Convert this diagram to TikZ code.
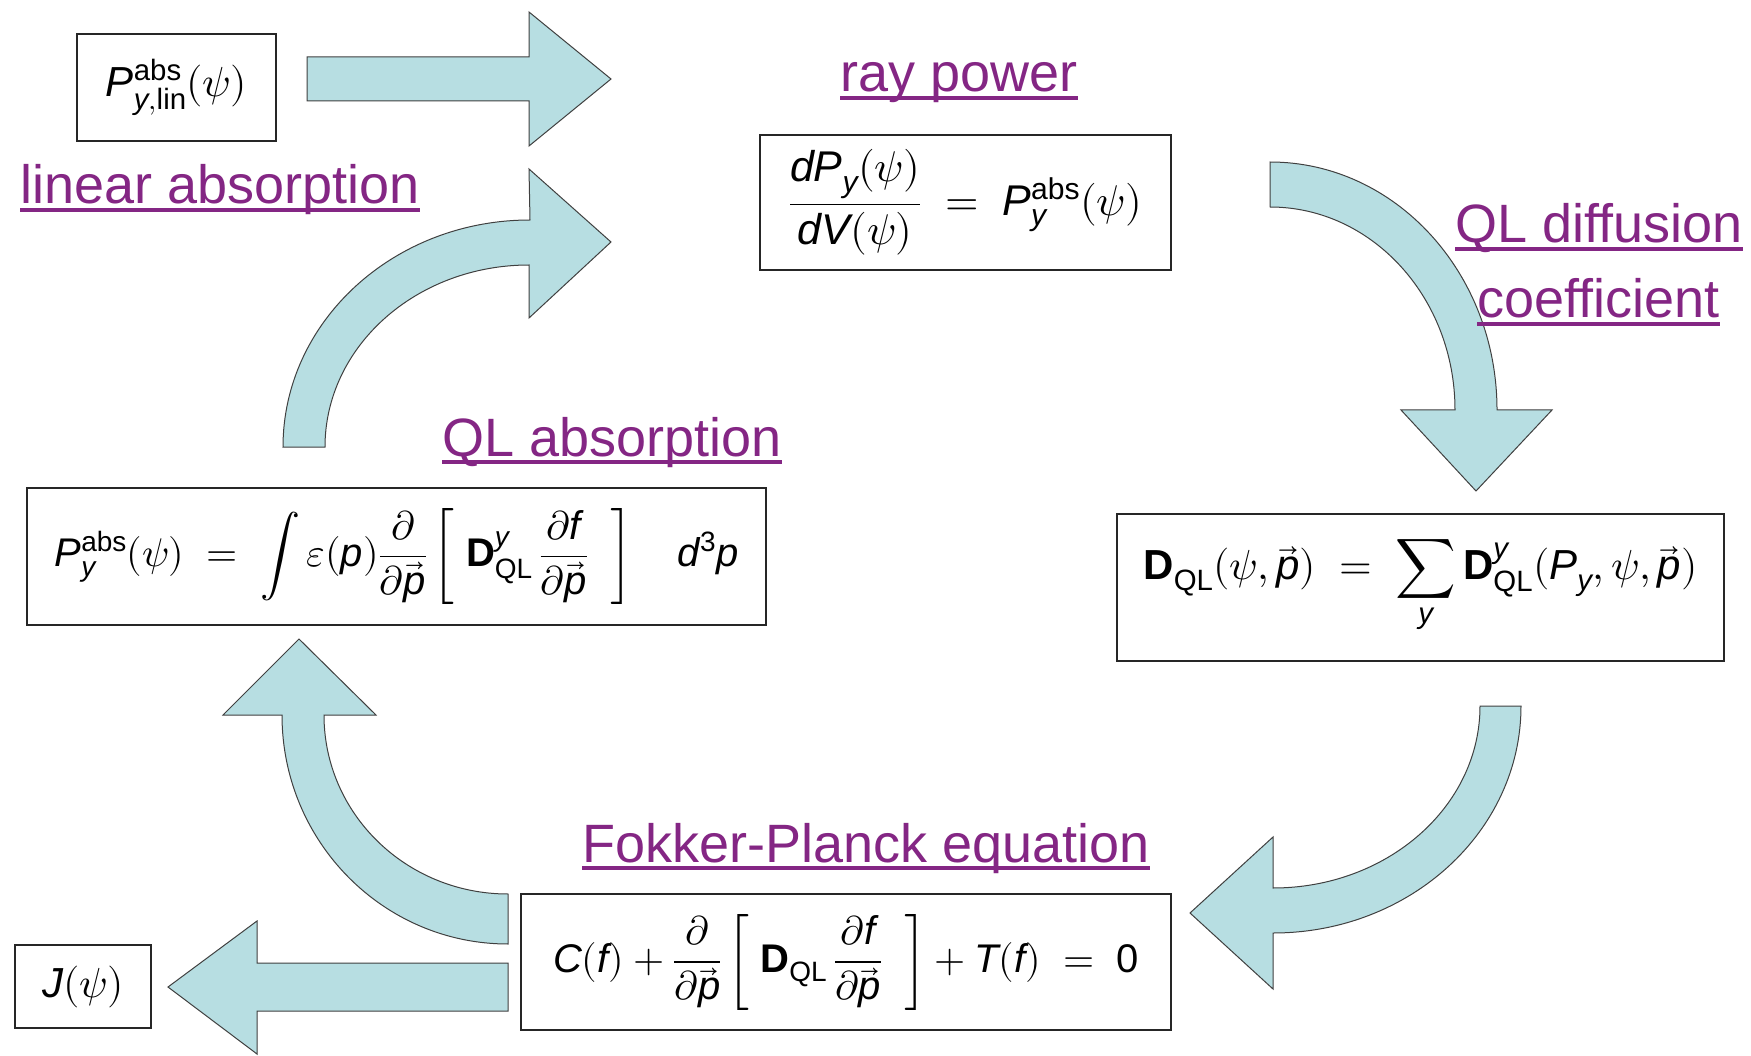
\documentclass[tikz,border=0pt]{standalone}
\usepackage{amsmath}
\usepackage{unicode-math}
\setmainfont{Liberation Sans}
\setmathfont{Latin Modern Math}
\definecolor{arrowfill}{RGB}{183,222,226}
\definecolor{linkpurple}{RGB}{132,38,132}
\newcommand{\mvar}[1]{\mathit{#1}}
\newcommand{\pvec}{\vec{\mathit{p}}}
\newcommand{\eqs}{\;=\;}
\tikzset{
  barrow/.style={fill=arrowfill, draw=black!75, line width=1pt, line join=miter},
  fbox/.style={draw=black!85, line width=1.3pt, fill=white, inner sep=0pt,
    font=\fontsize{42}{48}\selectfont},
  lbl/.style={font=\fontsize{54}{60}\selectfont, text=linkpurple, inner sep=0pt, anchor=base west},
  uline/.style={draw=linkpurple, line width=3.5pt}
}
\newcommand{\ul}[1]{\draw[uline] ([yshift=-6pt]#1.base west) -- ([yshift=-6pt]#1.base east);}
\begin{document}
\begin{tikzpicture}[x=1pt,y=-1pt]
\useasboundingbox (0,0) rectangle (1751,1056);
\fill[white] (0,0) rectangle (1751,1056);

% block arrows
\draw[barrow] (307,57) -- (529,57) -- (529,12) -- (611,79) -- (529,146) -- (529,101) -- (307,101) -- cycle;
\draw[barrow] (283,447) arc[start angle=180,end angle=270,x radius=247,y radius=227] -- (529,169) -- (611,242) -- (529,318) -- (529,265) arc[start angle=270,end angle=180,x radius=204,y radius=182] -- cycle;
\draw[barrow] (1270,162) arc[start angle=270,end angle=360,x radius=227,y radius=248] -- (1552,410) -- (1476,491) -- (1401,410) -- (1455,410) arc[start angle=360,end angle=270,x radius=185,y radius=203] -- cycle;
\draw[barrow] (1521,706) arc[start angle=0,end angle=90,x radius=248,y radius=227] -- (1273,989) -- (1190,913) -- (1273,837) -- (1273,888) arc[start angle=90,end angle=0,x radius=207,y radius=182] -- cycle;
\draw[barrow] (508,944) arc[start angle=90,end angle=180,x radius=226,y radius=229] -- (223,715) -- (299,639) -- (376,715) -- (324,715) arc[start angle=180,end angle=90,x radius=184,y radius=179] -- cycle;
\draw[barrow] (508,963) -- (257,963) -- (257,921) -- (168,987) -- (257,1054) -- (257,1011) -- (508,1011) -- cycle;

% formula boxes
\node[fbox, minimum width=199pt, minimum height=107pt] (plin) at (176.5,87.5)
  {$\mvar{P}^{\mathrm{abs}}_{\mvar{y},\mathrm{lin}}(\psi)$};
\node[fbox, minimum width=411pt, minimum height=135pt, font=\fontsize{43}{48}\selectfont] (ray) at (965.5,202.5)
  {$\displaystyle\frac{\mvar{d}\mvar{P}_{\mvar{y}}(\psi)}{\mvar{d}\mvar{V}(\psi)}\eqs\mvar{P}^{\mathrm{abs}}_{\mvar{y}}(\psi)$};
\node[fbox, minimum width=739pt, minimum height=137pt, font=\fontsize{40}{46}\selectfont] (qlabs) at (396.5,556.5)
  {$\displaystyle \mvar{P}^{\mathrm{abs}}_{\mvar{y}}(\psi)\eqs\int \varepsilon(\mvar{p})\frac{\partial}{\partial\pvec}\left[\;\mathbf{D}^{\mvar{y}}_{\mathrm{QL}}\,\frac{\partial \mvar{f}}{\partial\pvec}\;\;\right]\quad \mvar{d}^{\mathrm{3}}\mvar{p}$};
\node[fbox, minimum width=607pt, minimum height=147pt] (dql) at (1420.5,587.5)
  {$\displaystyle \mathbf{D}_{\mathrm{QL}}(\psi,\pvec)\eqs\sum_{\mvar{y}}\mathbf{D}^{\mvar{y}}_{\mathrm{QL}}(\mvar{P}_{\mvar{y}},\psi,\pvec)$};
\node[fbox, minimum width=650pt, minimum height=136pt, font=\fontsize{40}{46}\selectfont] (fp) at (846,962)
  {$\displaystyle \mvar{C}(\mvar{f}) + \frac{\partial}{\partial\pvec}\left[\;\mathbf{D}_{\mathrm{QL}}\,\frac{\partial \mvar{f}}{\partial\pvec}\;\;\right] + \mvar{T}(\mvar{f})\eqs\mathrm{0}$};
\node[fbox, minimum width=136pt, minimum height=83pt] (jpsi) at (83,986.5)
  {$\mvar{J}(\psi)$};

% labels
\node[lbl] (lray) at (840,92) {ray power};
\node[lbl] (llin) at (20,204) {linear absorption};
\node[lbl] (lqla) at (442,456) {QL absorption};
\node[lbl] (lqld) at (1455,243) {QL diffusion};
\node[lbl] (lcoef) at (1477,318) {coefficient};
\node[lbl] (lfp) at (582,862) {Fokker-Planck equation};
\ul{lray}\ul{llin}\ul{lqla}\ul{lqld}\ul{lcoef}\ul{lfp}
\end{tikzpicture}
\end{document}
